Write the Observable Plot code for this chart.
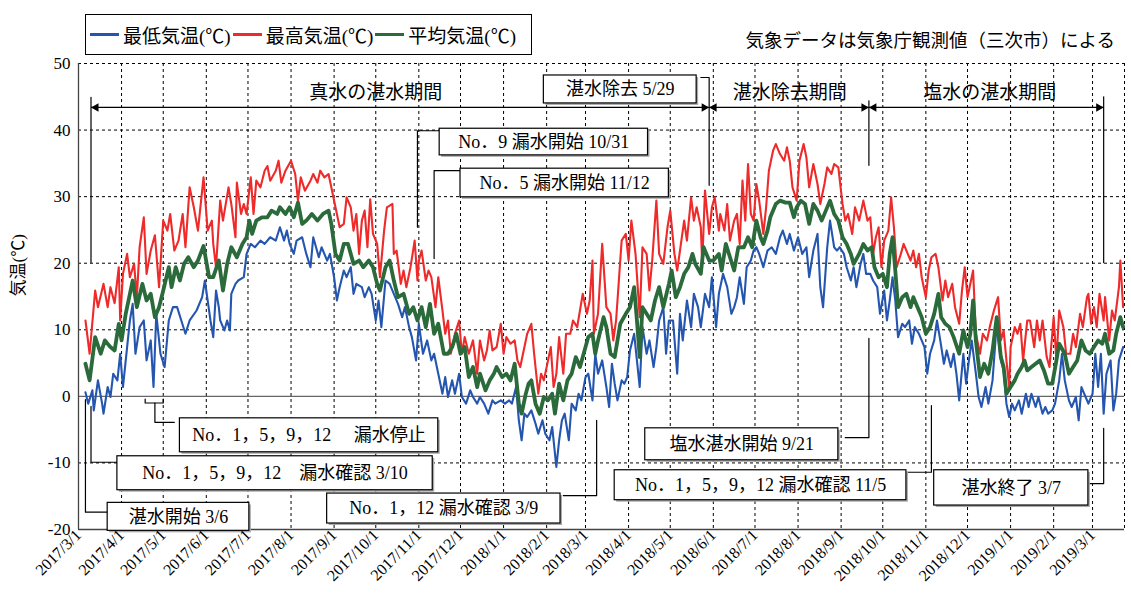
<!DOCTYPE html>
<html><head><meta charset="utf-8">
<script src="https://cdn.jsdelivr.net/npm/d3@7"></script>
<script src="https://cdn.jsdelivr.net/npm/@observablehq/plot@0.6"></script>
<style>
body{margin:0;background:#fff;}
#wrap{position:relative;width:1131px;height:605px;font-family:"Liberation Serif","Noto Sans CJK JP",serif;color:#000;}
#legend{position:absolute;left:85px;top:14px;width:447px;height:41px;border:1px solid #000;background:#fff;display:flex;align-items:center;font-size:19px;box-sizing:border-box;padding-left:4px;}
#legend .it{display:flex;align-items:center;margin-right:2px;}
#legend .sw{width:29px;margin-right:4px;}
#note{position:absolute;right:16px;top:32px;font-size:18.5px;line-height:1;white-space:nowrap;}
</style></head>
<body><div id="wrap"><div id="chart"></div><div id="legend"></div><div id="note"></div></div>
<script>
// ---------------- data (days since START, °C) ----------------
const START = "2017-03-01";
const X_END = "2019-03-24";
const seriesNames = ["最低気温(℃)", "最高気温(℃)", "平均気温(℃)"];
const seriesColors = ["#2456b0", "#ee2a2a", "#2b6a3a"];
const seriesWidths = [2.1, 2.1, 3.8];

const minSeries = [[5,0.6],[7,-1.1],[10,0.9],[11,-2.1],[14,2.4],[17,-1.1],[18,-2.6],[21,1.4],[23,-0.1],[25,3.4],[28,2.4],[30,6.4],[32,1.4],[35,7.4],[37,11.4],[39,13.9],[41,6.4],[44,10.4],[47,11.4],[49,5.4],[52,8.4],[54,1.4],[56,12.4],[59,6.4],[62,4.4],[65,11.4],[68,13.4],[71,13.4],[74,11.4],[77,9.4],[80,11.4],[85,12.9],[89,14.9],[91,17.4],[95,11.4],
[97,8.9],[99,15.9],[101,13.4],[102,11.4],[105,9.9],[107,11.4],[109,9.9],[110,15.4],[113,16.9],[115,17.4],[119,17.9],[121,21.4],[124,22.9],[127,22.4],[131,23.4],[134,22.9],[138,23.9],[142,23.4],[145,25.4],[148,23.4],[150,24.9],[152,22.9],[155,21.4],[157,23.4],[161,23.9],[164,21.4],[167,19.4],[169,23.9],[173,20.9],[175,22.4],[179,20.4],[181,21.4],[184,17.9],[186,14.4],[188,16.4],[191,18.9],
[193,17.9],[196,19.4],[198,15.4],[200,16.9],[204,16.4],[206,14.9],[209,16.4],[211,15.4],[214,11.4],[216,14.4],[218,10.4],[221,17.4],[224,16.9],[227,15.4],[230,13.9],[233,11.9],[235,13.4],[238,10.4],[240,8.9],[243,5.4],[245,10.9],[248,6.4],[251,8.4],[254,5.4],[256,6.4],[259,3.4],[262,0.4],[264,2.9],[266,-0.1],[269,2.4],[271,0.4],[274,3.4],[276,-0.1],[279,-1.1],[282,0.9],[284,-0.1],
[287,-1.1],[289,-0.1],[292,-1.1],[295,-2.6],[298,-0.6],[300,-1.1],[304,-0.6],[307,-1.1],[310,-0.6],[312,-1.1],[315,1.4],[317,-3.6],[319,-6.6],[321,-2.6],[323,-3.1],[326,-2.1],[329,-4.1],[331,-5.6],[334,-3.6],[336,-5.6],[339,-6.6],[341,-4.6],[344,-10.6],[346,-6.6],[348,-3.6],[350,-2.6],[353,-6.6],[355,-1.1],[358,-2.1],[360,0.4],[362,-0.6],[365,2.9],[367,3.4],[370,-0.6],[372,6.4],[374,3.4],[377,5.4],
[380,1.4],[382,-1.6],[384,4.9],[386,1.9],[388,-0.6],[391,2.4],[393,1.9],[395,2.9],[397,6.9],[400,9.4],[402,5.4],[404,1.4],[406,10.4],[409,6.4],[411,8.4],[414,4.4],[416,7.4],[418,11.4],[421,13.4],[423,6.4],[425,11.4],[428,11.4],[431,3.4],[433,12.4],[435,8.4],[438,14.4],[441,10.4],[443,15.4],[446,13.4],[448,10.4],[451,15.4],[454,13.4],[456,17.9],[459,10.4],[461,15.4],[464,18.4],[467,16.4],[470,12.4],[472,13.4],
[474,14.9],[476,17.9],[479,13.9],[481,19.4],[484,20.4],[486,21.9],[488,22.4],[490,21.4],[493,19.4],[496,21.9],[499,22.4],[502,21.4],[505,23.9],[507,24.9],[510,22.9],[512,24.4],[515,21.9],[518,23.9],[521,21.4],[524,22.4],[526,17.9],[529,21.9],[532,24.4],[534,16.4],[536,13.4],[539,22.4],[541,26.4],[544,22.4],[546,21.9],[548,22.4],[551,21.4],[553,19.4],[556,17.4],[558,19.4],[560,16.4],[563,19.9],[565,21.4],
[567,18.4],[570,18.4],[572,17.4],[575,16.4],[577,12.4],[580,15.9],[582,11.4],[584,14.4],[586,17.9],[588,14.4],[590,8.9],[593,10.9],[595,10.4],[598,11.4],[600,7.9],[602,10.4],[605,9.4],[607,8.4],[609,7.4],[611,3.4],[613,6.4],[616,8.4],[618,11.4],[620,8.9],[623,4.9],[625,6.9],[628,4.4],[630,6.4],[632,3.4],[634,-0.6],[637,6.4],[639,1.9],[641,5.4],[643,8.4],[646,3.4],[648,-0.1],[650,-1.6],[653,1.4],[655,-1.1],[658,2.4],
[661,10.9],[664,5.4],[666,3.9],[668,-1.1],[670,-3.1],[672,-1.1],[674,-2.1],[677,-0.6],[679,-2.6],[682,0.4],[684,-1.6],[686,0.4],[689,-1.6],[691,-0.1],[694,-2.6],[696,-1.6],[698,-2.6],[701,-2.1],[703,-1.1],[706,2.4],[708,6.4],[710,2.4],[713,-0.6],[715,-1.6],[718,-0.1],[720,-3.6],[722,1.4],[725,-0.1],[727,-1.1],[730,0.4],[732,6.4],[734,1.4],[736,6.4],[738,-2.6],[740,3.4],[743,5.4],[745,-2.1],[747,0.4],[749,5.4],[752,7.4]];

const maxSeries = [[5,11.4],[8,6.4],[12,15.9],[14,13.4],[18,16.9],[21,13.4],[23,16.4],[26,14.0],[29,19.4],[30,11.4],[32,18.4],[35,21.4],[37,17.9],[40,19.9],[42,14.9],[44,22.4],[47,26.9],[49,18.4],[52,21.9],[55,24.2],[58,16.4],[61,26.4],[64,24.9],[66,27.4],[69,21.9],[72,23.4],[75,27.4],[77,22.4],[80,31.4],[83,28.4],[86,24.9],[90,32.9],[93,24.9],[96,26.4],
[97,22.9],[99,19.4],[102,29.4],[104,26.4],[108,31.4],[110,28.9],[113,23.9],[114,32.1],[117,27.4],[119,28.9],[121,27.4],[124,32.9],[126,27.4],[128,32.4],[131,31.4],[134,33.9],[136,34.6],[138,32.4],[142,33.9],[144,35.4],[146,32.1],[149,33.9],[153,35.4],[156,33.4],[158,29.4],[160,32.9],[163,30.9],[167,32.4],[169,33.4],[172,32.1],[174,33.9],[177,32.9],[180,33.4],[182,31.4],[185,28.4],[188,25.4],[191,25.9],
[193,29.9],[196,28.4],[198,24.9],[200,27.4],[202,21.4],[204,26.4],[206,27.9],[208,22.4],[210,29.6],[212,24.4],[215,22.9],[217,17.9],[220,24.9],[222,28.4],[226,28.9],[227,21.4],[229,21.9],[232,16.9],[234,18.9],[236,16.4],[239,19.4],[242,23.4],[244,17.4],[245,20.4],[247,21.9],[250,17.4],[252,18.9],[254,17.9],[257,13.4],[259,17.9],[262,12.9],[264,9.4],[266,11.4],[268,6.4],[271,9.4],[274,11.4],[276,6.4],[278,8.9],[281,6.4],[284,8.4],
[287,3.4],[289,8.4],[292,5.4],[294,6.9],[296,9.9],[298,6.9],[301,7.4],[304,10.9],[306,6.4],[308,8.9],[311,7.9],[314,8.4],[316,5.4],[318,4.4],[320,6.4],[323,9.4],[326,10.9],[328,6.4],[331,0.4],[333,3.4],[335,2.4],[338,5.4],[340,7.4],[342,1.4],[344,3.4],[346,8.9],[349,3.4],[351,9.4],[354,9.4],[356,11.4],[359,10.4],[361,12.9],[363,15.4],[366,12.4],[368,14.4],[370,20.4],[371,9.4],[374,12.4],[377,22.9],
[380,13.4],[383,12.4],[385,8.4],[387,11.4],[389,17.4],[391,23.4],[394,24.4],[396,20.4],[398,26.4],[401,21.4],[404,11.9],[406,22.4],[409,21.4],[411,15.9],[413,20.4],[416,29.4],[418,21.4],[421,19.9],[424,25.4],[426,27.9],[429,21.4],[431,18.9],[434,23.4],[436,26.4],[438,23.4],[441,29.9],[443,26.4],[445,28.4],[448,25.4],[449,19.9],[451,30.9],[454,24.4],[456,28.4],[458,29.9],[461,24.9],[462,27.4],[465,24.9],[467,28.9],[469,23.4],[472,26.4],
[474,27.4],[476,22.9],[478,32.4],[480,26.4],[482,34.9],[484,27.4],[486,26.4],[488,31.9],[490,29.4],[493,24.4],[495,28.4],[497,33.9],[500,36.9],[502,37.9],[505,36.4],[508,35.4],[510,37.4],[512,35.4],[514,31.4],[517,29.4],[519,35.4],[522,37.9],[524,35.9],[526,31.4],[529,34.9],[532,31.9],[534,28.9],[537,31.9],[539,34.4],[542,33.4],[544,34.9],[547,34.4],[550,28.9],[552,26.4],[554,27.4],[557,24.4],[559,28.4],[562,26.4],[565,29.4],
[568,26.4],[570,26.9],[572,21.4],[574,23.9],[576,25.4],[578,19.4],[580,23.4],[583,24.9],[585,29.9],[587,25.4],[589,19.4],[592,21.4],[594,22.9],[596,21.9],[599,20.4],[601,21.9],[603,19.4],[605,21.4],[607,17.9],[610,14.9],[612,18.9],[614,20.9],[617,21.4],[619,19.4],[622,14.4],[624,17.4],[626,14.9],[629,16.9],[631,13.4],[634,10.9],[636,15.9],[638,19.4],[640,14.9],[643,17.9],[644,18.9],[646,9.4],[649,6.4],[651,9.4],[654,8.4],[656,10.4],[659,12.9],
[662,14.9],[664,8.4],[666,9.9],[668,5.4],[670,1.4],[671,7.4],[674,10.4],[676,9.4],[678,10.9],[680,5.4],[683,11.4],[685,11.4],[688,7.4],[690,11.4],[692,8.4],[694,11.4],[697,5.9],[699,4.4],[702,11.9],[704,5.4],[706,12.9],[709,10.4],[711,6.4],[714,6.4],[716,9.4],[718,7.4],[721,12.4],[723,10.4],[726,14.9],[727,15.4],[729,10.9],[731,13.4],[733,10.4],[735,15.4],[738,11.4],[739,14.9],[742,8.4],[744,12.9],[746,11.4],[749,16.4],[750,20.4],[752,13.4]];

const meanSeries = [[5,4.9],[8,2.4],[12,8.9],[16,6.4],[19,8.4],[23,7.4],[26,6.9],[29,10.9],[31,8.4],[34,12.4],[37,15.4],[39,17.4],[42,13.4],[46,16.9],[49,14.4],[52,15.4],[55,11.9],[58,13.4],[61,15.9],[65,19.4],[67,16.4],[70,19.4],[73,17.4],[76,19.9],[79,20.9],[83,19.4],[86,20.4],[90,22.6],[94,17.9],
[97,17.9],[101,20.4],[104,15.9],[107,19.9],[110,22.4],[114,20.9],[118,22.9],[121,23.9],[123,26.4],[125,24.4],[128,26.4],[132,26.9],[136,26.9],[139,27.9],[143,27.4],[145,28.4],[149,27.4],[152,28.4],[155,26.9],[158,29.1],[161,25.9],[164,26.4],[168,27.4],[172,26.4],[176,27.4],[180,27.9],[182,25.9],[185,21.4],[188,20.4],[191,22.9],
[194,22.9],[198,19.9],[202,20.4],[205,19.4],[209,20.4],[212,19.4],[215,16.9],[217,15.9],[221,19.4],[224,20.4],[227,17.4],[230,14.9],[234,15.4],[238,12.4],[241,13.4],[244,11.4],[247,13.4],[250,10.4],[253,13.9],[256,9.4],[259,10.9],[263,6.4],[266,6.4],[269,7.4],[272,9.4],[275,6.4],[278,7.4],[281,2.9],[284,4.4],
[287,1.4],[289,3.4],[293,0.9],[296,2.4],[299,3.4],[301,4.4],[305,2.9],[308,3.4],[311,2.4],[314,4.9],[317,-1.1],[319,-2.6],[322,0.4],[324,1.9],[326,2.4],[329,-1.1],[332,-2.6],[335,-0.1],[338,-0.6],[341,0.4],[343,-2.6],[346,1.9],[349,-0.6],[352,2.4],[355,3.4],[358,5.9],[361,4.4],[365,7.4],[367,8.9],[370,9.4],[372,6.4],[374,8.4],[378,11.9],
[380,10.4],[383,6.4],[386,5.9],[390,10.9],[394,12.4],[397,13.4],[400,16.4],[402,11.4],[404,5.9],[406,13.4],[409,12.4],[412,11.4],[415,14.4],[418,16.4],[421,13.4],[425,16.9],[427,18.9],[430,14.9],[433,16.4],[436,18.4],[439,19.4],[442,21.4],[444,19.9],[448,18.4],[450,22.4],[454,20.4],[457,20.4],[461,21.4],[463,18.9],[466,22.9],[469,20.9],[472,18.9],
[475,22.4],[479,22.4],[482,23.9],[485,22.4],[488,26.4],[491,23.9],[493,22.9],[496,24.9],[498,26.9],[502,28.9],[505,29.4],[509,29.1],[512,29.1],[515,26.9],[517,28.4],[520,29.4],[523,28.9],[526,25.9],[529,28.9],[532,27.9],[535,26.4],[538,27.9],[541,29.4],[544,27.4],[547,26.4],[550,23.9],[553,22.9],[556,21.4],[558,19.9],[562,21.4],[565,22.9],
[568,21.9],[571,22.4],[573,19.4],[576,17.9],[579,18.4],[582,16.4],[584,21.4],[586,23.9],[588,18.9],[590,13.4],[593,14.9],[596,15.4],[599,13.4],[601,14.9],[604,13.4],[607,11.9],[610,9.4],[613,10.4],[616,12.4],[619,15.4],[621,11.9],[624,10.9],[627,10.4],[630,8.9],[634,6.4],[637,9.9],[640,7.4],[642,9.4],[644,14.4],[646,8.4],[649,2.9],[652,4.9],[655,3.4],[658,6.9],
[661,11.9],[664,5.9],[666,4.4],[668,0.4],[671,1.4],[674,2.4],[676,3.4],[679,4.4],[681,5.4],[683,3.9],[686,4.4],[689,4.9],[692,5.4],[695,3.9],[698,1.9],[701,1.9],[704,5.4],[706,7.9],[710,6.4],[713,3.4],[716,4.4],[719,5.4],[722,8.4],[725,6.9],[728,6.4],[731,7.4],[734,8.4],[737,7.9],[739,9.4],[742,6.4],[745,6.9],[747,9.4],[750,11.9],[752,10.4]];

const monthTicks = ["2017-03-01","2017-04-01","2017-05-01","2017-06-01","2017-07-01","2017-08-01","2017-09-01","2017-10-01","2017-11-01","2017-12-01","2018-01-01","2018-02-01","2018-03-01","2018-04-01","2018-05-01","2018-06-01","2018-07-01","2018-08-01","2018-09-01","2018-10-01","2018-11-01","2018-12-01","2019-01-01","2019-02-01","2019-03-01"];
const yTicks = [-20,-10,0,10,20,30,40,50];
const yLabel = "気温(℃)";
const noteText = "気象データは気象庁観測値（三次市）による";

// ---------------- annotations (dates, °C) ----------------
const periods = [
  {label:"真水の湛水期間", from:"2017-03-10", to:"2018-05-29", at:"2017-10-01"},
  {label:"湛水除去期間", from:"2018-05-29", to:"2018-09-21", at:"2018-07-26"},
  {label:"塩水の湛水期間", from:"2018-09-21", to:"2019-03-09", at:"2018-12-17"}
];
const periodArrowY = 43.4, periodTextY = 45.6;
const boxes = [
  {label:"湛水開始 3/6", from:"2017-03-22", to:"2017-07-02", top:-16.0, bottom:-20.2},
  {label:"No．1，5，9，12　漏水確認 3/10", from:"2017-03-29", to:"2017-11-11", top:-9.0, bottom:-14.1},
  {label:"No．1，5，9，12　 漏水停止", from:"2017-05-13", to:"2017-11-15", top:-3.3, bottom:-8.4},
  {label:"No．1，12 漏水確認 3/9", from:"2017-08-27", to:"2018-02-11", top:-14.6, bottom:-19.1},
  {label:"No．9 漏水開始 10/31", from:"2017-11-16", to:"2018-04-15", top:40.2, bottom:36.2},
  {label:"No．5 漏水開始 11/12", from:"2017-12-01", to:"2018-04-30", top:34.2, bottom:29.9},
  {label:"湛水除去 5/29", from:"2018-01-30", to:"2018-05-20", top:48.2, bottom:44.0},
  {label:"塩水湛水開始 9/21", from:"2018-04-13", to:"2018-08-30", top:-4.8, bottom:-9.6},
  {label:"No．1，5，9，12 漏水確認 11/5", from:"2018-03-22", to:"2018-10-18", top:-11.1, bottom:-15.6},
  {label:"湛水終了 3/7", from:"2018-11-07", to:"2019-02-26", top:-11.1, bottom:-16.4}
];
const leaders = [
  [["2017-03-06",-0.5],["2017-03-06",-17.4],["2017-03-22",-17.4]],
  [["2017-03-10",-1.5],["2017-03-10",-9.9],["2017-03-29",-9.9]],
  [["2017-04-18",-0.4],["2017-04-18",-1.0],["2017-05-01",-1.0],["2017-05-01",-0.4]],
  [["2017-04-25",-1.0],["2017-04-25",-3.9],["2017-05-09",-3.9]],
  [["2018-02-13",-14.9],["2018-03-09",-14.9],["2018-03-09",-3.6]],
  [["2018-09-04",-6.2],["2018-09-21",-6.2],["2018-09-21",8.7]],
  [["2018-09-21",44.4],["2018-09-21",34.7]],
  [["2018-10-18",-11.4],["2018-11-05",-11.4],["2018-11-05",-1.4]],
  [["2019-02-26",-13.1],["2019-03-09",-13.1],["2019-03-09",-4.8]],
  [["2019-03-09",45.0],["2019-03-09",20.1]],
  [["2017-11-16",39.9],["2017-10-31",39.9],["2017-10-31",25.4]],
  [["2017-12-01",33.9],["2017-11-12",33.9],["2017-11-12",20.7]],
  [["2018-05-23",47.9],["2018-05-29",47.9],["2018-05-29",31.7]],
  [["2017-03-10",44.9],["2017-03-10",20.1]]
];

// ---------------- build ----------------
const D = s => new Date(s + "T00:00:00Z");
const day0 = D(START);
const toRows = s => s.map(([d, v]) => ({date: d3.utcDay.offset(day0, d), temp: v}));
const allSeries = [minSeries, maxSeries, meanSeries].map(toRows);
const ticksX = monthTicks.map(D);
const mid = (a, b) => new Date((+D(a) + +D(b)) / 2);
const leaderRows = leaders.flatMap((pts, i) => pts.map(([d, v]) => ({id: i, date: D(d), temp: v})));
const arrowHeads = periods.flatMap(p => [{date: D(p.from), dir: -1}, {date: D(p.to), dir: 1}]);
const dash = "3,3";
const FONT = '"Liberation Serif","Noto Sans CJK JP",serif';

const chart = Plot.plot({
  width: 1131, height: 605,
  marginLeft: 78, marginRight: 7, marginTop: 63, marginBottom: 76,
  style: {fontFamily: FONT, fontSize: "17px", color: "#000", background: "#fff", overflow: "visible"},
  x: {type: "utc", domain: [D(START), D(X_END)]},
  y: {domain: [-20, 50]},
  marks: [
    Plot.ruleX(ticksX.slice(1), {stroke: "#000", strokeWidth: 1, strokeDasharray: dash}),
    Plot.ruleX([D(X_END)], {stroke: "#000", strokeWidth: 1, strokeDasharray: dash}),
    Plot.ruleY(yTicks.filter(v => v !== 0 && v !== -20), {stroke: "#000", strokeWidth: 1, strokeDasharray: dash}),
    Plot.ruleY([0], {stroke: "#666", strokeWidth: 1.3}),
    Plot.ruleY([-20], {stroke: "#444", strokeWidth: 1.3}),
    Plot.ruleX([D(START)], {stroke: "#444", strokeWidth: 1.3}),
    ...allSeries.map((rows, k) => Plot.line(rows, {x: "date", y: "temp", stroke: seriesColors[k], strokeWidth: seriesWidths[k], strokeLinejoin: "round"})),
    Plot.line(leaderRows, {x: "date", y: "temp", z: "id", stroke: "#000", strokeWidth: 1.2}),
    Plot.rect(boxes, {x1: d => D(d.from), x2: d => D(d.to), y1: "bottom", y2: "top", fill: "#aaa", dx: 2, dy: 2}),
    Plot.rect(boxes, {x1: d => D(d.from), x2: d => D(d.to), y1: "bottom", y2: "top", fill: "#fff", stroke: "#000", strokeWidth: 1.2}),
    Plot.text(boxes, {x: d => mid(d.from, d.to), y: d => (d.top + d.bottom) / 2, text: "label", fontSize: 18, fill: "#000"}),
    Plot.link(periods, {x1: d => D(d.from), x2: d => D(d.to), y1: () => periodArrowY, y2: () => periodArrowY, stroke: "#000", strokeWidth: 1.2}),
    Plot.dot(arrowHeads.filter(a => a.dir < 0), {x: "date", y: () => periodArrowY, symbol: "triangle", rotate: -90, r: 3.2, fill: "#000", dx: 5}),
    Plot.dot(arrowHeads.filter(a => a.dir > 0), {x: "date", y: () => periodArrowY, symbol: "triangle", rotate: 90, r: 3.2, fill: "#000", dx: -5}),
    Plot.text(periods, {x: d => D(d.at), y: () => periodTextY, text: "label", fontSize: 19, fill: "#000"}),
    Plot.axisY({ticks: yTicks, tickSize: 0, tickPadding: 8, tickFormat: d => String(d), fontSize: 17, label: null}),
    Plot.axisX({ticks: ticksX, tickSize: 0, tickPadding: 3, tickRotate: -45, tickFormat: d3.utcFormat("%Y/%-m/%-d"), fontSize: 16, label: null}),
    Plot.text([yLabel], {frameAnchor: "left", dx: -60, rotate: -90, fontSize: 17, fill: "#000"})
  ]
});
document.getElementById("chart").appendChild(chart);

// legend + note
const lg = document.getElementById("legend");
seriesNames.forEach((n, k) => {
  const it = document.createElement("div"); it.className = "it";
  const sw = document.createElement("div"); sw.className = "sw";
  sw.style.height = seriesWidths[k] + "px"; sw.style.background = seriesColors[k];
  const tx = document.createElement("span"); tx.textContent = n;
  it.appendChild(sw); it.appendChild(tx); lg.appendChild(it);
});
document.getElementById("note").textContent = noteText;
</script>
</body></html>
